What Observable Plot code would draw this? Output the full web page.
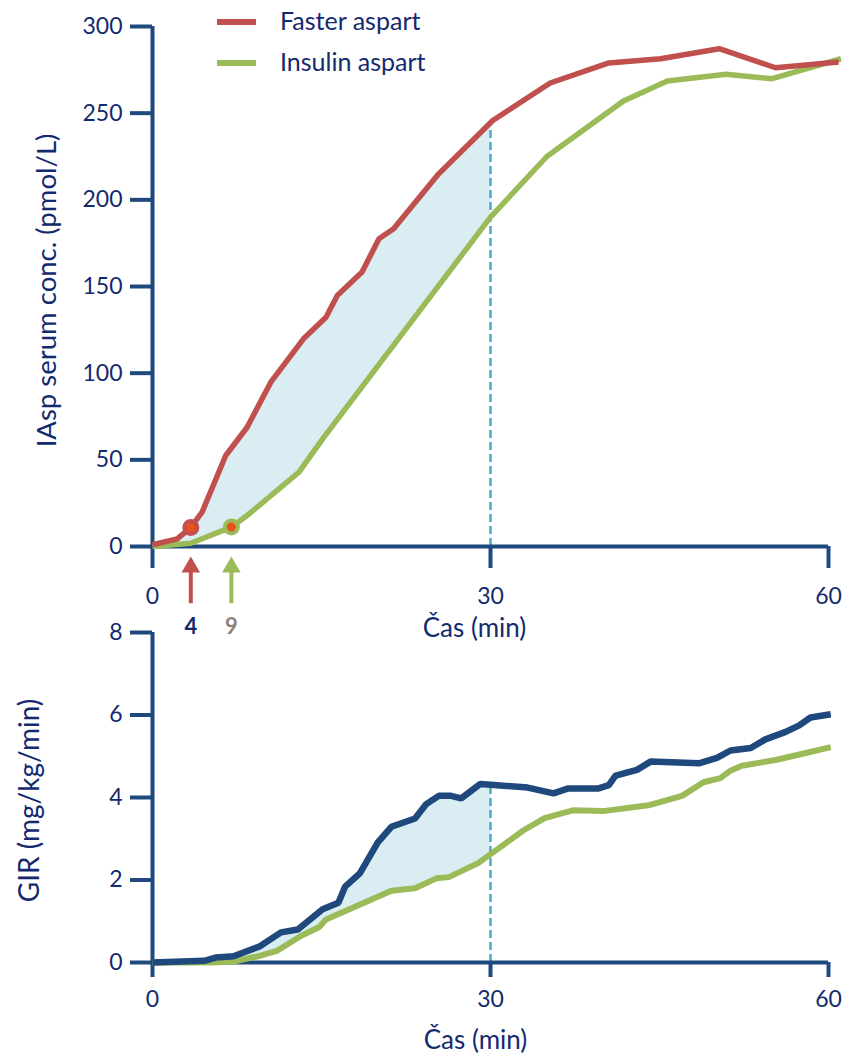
<!DOCTYPE html>
<html>
<head>
<meta charset="utf-8">
<script src="https://cdn.jsdelivr.net/npm/d3@7"></script>
<script src="https://cdn.jsdelivr.net/npm/@observablehq/plot@0.6"></script>
<style>
  body { margin: 0; background: white; font-family: Lato, "Open Sans", sans-serif; }
  #wrap { position: relative; width: 846px; height: 1059px; overflow: hidden; }
  #wrap svg { position: absolute; left: 0; }
  .sw { position: absolute; height: 6px; width: 39px; }
  .lt { position: absolute; font-size: 25px; line-height: 28px; color: #142a6e; white-space: nowrap; }
</style>
</head>
<body>
<div id="wrap"></div>
<script>
// ---- Data: top panel (IAsp serum concentration, pmol/L) ----
const legendLabels = ["Faster aspart", "Insulin aspart"];
const fasterTime = [0, 2.2, 3.4, 4.4, 6.5, 8.4, 10.5, 13.4, 15.4, 16.4, 18.6, 20.1, 21.4, 25.4, 30.2, 35.3, 40.5, 45.1, 50.3, 55.3, 60.9];
const fasterConc = [1, 4.4, 11, 19.8, 52.5, 68.8, 94.8, 119.8, 132.3, 144.8, 158.3, 177.6, 183.3, 215, 245.8, 267.4, 279, 281.4, 287.2, 276.2, 279.5];
const aspartTime = [0, 3.4, 7.0, 8.4, 13.0, 15.2, 30.0, 35.0, 41.8, 45.7, 50.9, 55.0, 61.1];
const aspartConc = [0, 1.9, 11.2, 17.9, 42.9, 63, 190, 225, 257, 268.5, 272.4, 269.9, 281.4];
const onsetTime = [3.4, 7.0];
const onsetConc = [11, 11.2];
const onsetLabel = ["4", "9"];

// ---- Data: bottom panel (GIR, mg/kg/min) ----
const girFasterTime = [0, 4.6, 5.6, 7.2, 9.5, 11.4, 12.9, 15.1, 16.5, 17.1, 18.4, 20.0, 21.2, 23.3, 24.3, 25.4, 26.5, 27.4, 29.1, 33.3, 35.6, 36.9, 39.6, 40.5, 41.1, 43.0, 44.2, 48.5, 50.1, 51.3, 53.1, 54.4, 56.2, 57.4, 58.4, 60.2];
const girFasterVal  = [0, 0.04, 0.12, 0.15, 0.39, 0.73, 0.8, 1.29, 1.45, 1.84, 2.16, 2.91, 3.29, 3.49, 3.84, 4.04, 4.04, 3.98, 4.33, 4.24, 4.1, 4.22, 4.22, 4.3, 4.53, 4.67, 4.87, 4.83, 4.96, 5.14, 5.2, 5.41, 5.59, 5.75, 5.94, 6.02];
const girAspartTime = [0, 4.9, 7.2, 9.5, 11.1, 13.2, 14.8, 15.4, 21.2, 23.3, 25.2, 26.3, 28.9, 31.0, 32.9, 34.8, 37.3, 40.0, 44.0, 47.0, 48.9, 50.4, 51.3, 52.3, 55.3, 57.7, 60.2];
const girAspartVal  = [0, 0, 0.02, 0.16, 0.29, 0.65, 0.86, 1.04, 1.74, 1.8, 2.04, 2.07, 2.41, 2.82, 3.2, 3.5, 3.69, 3.67, 3.81, 4.04, 4.37, 4.47, 4.65, 4.77, 4.91, 5.06, 5.22];

// ---- Ticks & labels ----
const xTicks = [0, 30, 60];
const yTicksTop = [0, 50, 100, 150, 200, 250, 300];
const yTicksBottom = [0, 2, 4, 6, 8];
const xLabel = "Čas (min)";
const yLabelTop = "IAsp serum conc. (pmol/L)";
const yLabelBottom = "GIR (mg/kg/min)";
const cutoff = 30;

// ---- Styles ----
const red = "#c0504d", green = "#9bbb59", navy = "#1f497d";
const axisColor = "#1f497d", textColor = "#142a6e";
const shade = "#daedf3", dashColor = "#4bacc6", dotFill = "#e8501c";

const zip = (ts, vs) => ts.map((t, i) => ({t, v: vs[i]}));
function valueAt(ts, vs, x) {
  for (let i = 0; i < ts.length - 1; i++) {
    if (ts[i] <= x && x <= ts[i + 1]) return vs[i] + (vs[i + 1] - vs[i]) * (x - ts[i]) / (ts[i + 1] - ts[i]);
  }
  return vs[vs.length - 1];
}
function band(tA, vA, tB, vB, xc) {
  const upper = zip(tA, vA).filter(d => d.t < xc);
  const lower = zip(tB, vB).filter(d => d.t < xc);
  return [...upper, {t: xc, v: valueAt(tA, vA, xc)}, {t: xc, v: valueAt(tB, vB, xc)}, ...lower.reverse()];
}

const faster = zip(fasterTime, fasterConc);
const aspart = zip(aspartTime, aspartConc);
const onsets = onsetTime.map((t, i) => ({t, v: onsetConc[i], label: onsetLabel[i], color: [red, green][i], lc: [textColor, "#8c8279"][i]}));
const girF = zip(girFasterTime, girFasterVal);
const girA = zip(girAspartTime, girAspartVal);

const wrap = document.getElementById("wrap");
const baseStyle = {fontFamily: "Lato, 'Open Sans', sans-serif", fontSize: "23px", background: "transparent", color: textColor, overflow: "visible"};

const topChart = Plot.plot({
  width: 846, height: 660,
  marginLeft: 152, marginRight: 18, marginTop: 26, marginBottom: 114,
  x: {domain: [0, 60]},
  y: {domain: [0, 300]},
  style: baseStyle,
  marks: [
    Plot.line(band(fasterTime, fasterConc, aspartTime, aspartConc, cutoff), {x: "t", y: "v", fill: shade, stroke: "none"}),
    Plot.ruleX([cutoff], {y1: 0, y2: valueAt(fasterTime, fasterConc, cutoff), stroke: dashColor, strokeWidth: 2.5, strokeDasharray: "8,4"}),
    Plot.axisY(yTicksTop, {tickSize: 22, tickPadding: 8, stroke: axisColor, strokeWidth: 4, color: textColor, fontSize: 23, label: null}),
    Plot.axisX(xTicks, {tickSize: 22, tickPadding: 19, stroke: axisColor, strokeWidth: 4, color: textColor, fontSize: 23, label: null}),
    Plot.ruleX([0], {stroke: axisColor, strokeWidth: 4}),
    Plot.ruleY([0], {stroke: axisColor, strokeWidth: 4}),
    Plot.line(aspart, {x: "t", y: "v", stroke: green, strokeWidth: 5.5, strokeLinejoin: "miter", strokeLinecap: "butt"}),
    Plot.line(faster, {x: "t", y: "v", stroke: red, strokeWidth: 5.5, strokeLinejoin: "miter", strokeLinecap: "butt"}),
    Plot.dot(onsets, {x: "t", y: "v", r: 6.5, fill: dotFill, stroke: "color", strokeWidth: 4}),
    Plot.ruleX(onsets, {x: "t", y1: -15, y2: -33, stroke: "color", strokeWidth: 4}),
    Plot.dot(onsets, {x: "t", y: -11.9, symbol: "triangle", r: 6.9, fill: "color", stroke: "none"}),
    Plot.text(onsets, {x: "t", y: 0, dy: 80, text: "label", fill: "lc", fontWeight: "bold", fontSize: 22}),
    Plot.text([xLabel], {frameAnchor: "bottom", dy: 90, dx: -16, fontSize: 26, fill: textColor}),
    Plot.text([yLabelTop], {frameAnchor: "left", textAnchor: "middle", dx: -105, dy: 4, rotate: -90, fontSize: 27.5, fill: textColor})
  ]
});
topChart.style.top = "0px";
wrap.appendChild(topChart);

const bottomChart = Plot.plot({
  width: 846, height: 459,
  marginLeft: 152, marginRight: 18, marginTop: 32, marginBottom: 97,
  x: {domain: [0, 60]},
  y: {domain: [0, 8]},
  style: baseStyle,
  marks: [
    Plot.line(band(girFasterTime, girFasterVal, girAspartTime, girAspartVal, cutoff), {x: "t", y: "v", fill: shade, stroke: "none"}),
    Plot.ruleX([cutoff], {y1: 0, y2: valueAt(girFasterTime, girFasterVal, cutoff), stroke: dashColor, strokeWidth: 2.5, strokeDasharray: "8,4"}),
    Plot.axisY(yTicksBottom, {tickSize: 22, tickPadding: 8, stroke: axisColor, strokeWidth: 4, color: textColor, fontSize: 23, label: null}),
    Plot.axisX(xTicks, {tickSize: 15, tickPadding: 13, stroke: axisColor, strokeWidth: 4, color: textColor, fontSize: 23, label: null}),
    Plot.ruleX([0], {stroke: axisColor, strokeWidth: 4}),
    Plot.ruleY([0], {stroke: axisColor, strokeWidth: 4}),
    Plot.line(girA, {x: "t", y: "v", stroke: green, strokeWidth: 6, strokeLinejoin: "miter", strokeLinecap: "butt"}),
    Plot.line(girF, {x: "t", y: "v", stroke: navy, strokeWidth: 6.5, strokeLinejoin: "miter", strokeLinecap: "butt"}),
    Plot.text([xLabel], {frameAnchor: "bottom", dy: 86, dx: -15, fontSize: 26, fill: textColor}),
    Plot.text([yLabelBottom], {frameAnchor: "left", textAnchor: "middle", dx: -122, dy: 3, rotate: -90, fontSize: 28, fill: textColor})
  ]
});
bottomChart.style.top = "600px";
wrap.appendChild(bottomChart);

// Legend
[[red, 19, 6], [green, 60, 47]].forEach(([c, sy, ty], i) => {
  const sw = document.createElement("div");
  sw.className = "sw"; sw.style.background = c; sw.style.left = "217px"; sw.style.top = sy + "px";
  wrap.appendChild(sw);
  const lt = document.createElement("div");
  lt.className = "lt"; lt.textContent = legendLabels[i]; lt.style.left = "280px"; lt.style.top = ty + "px";
  wrap.appendChild(lt);
});
</script>
</body>
</html>
